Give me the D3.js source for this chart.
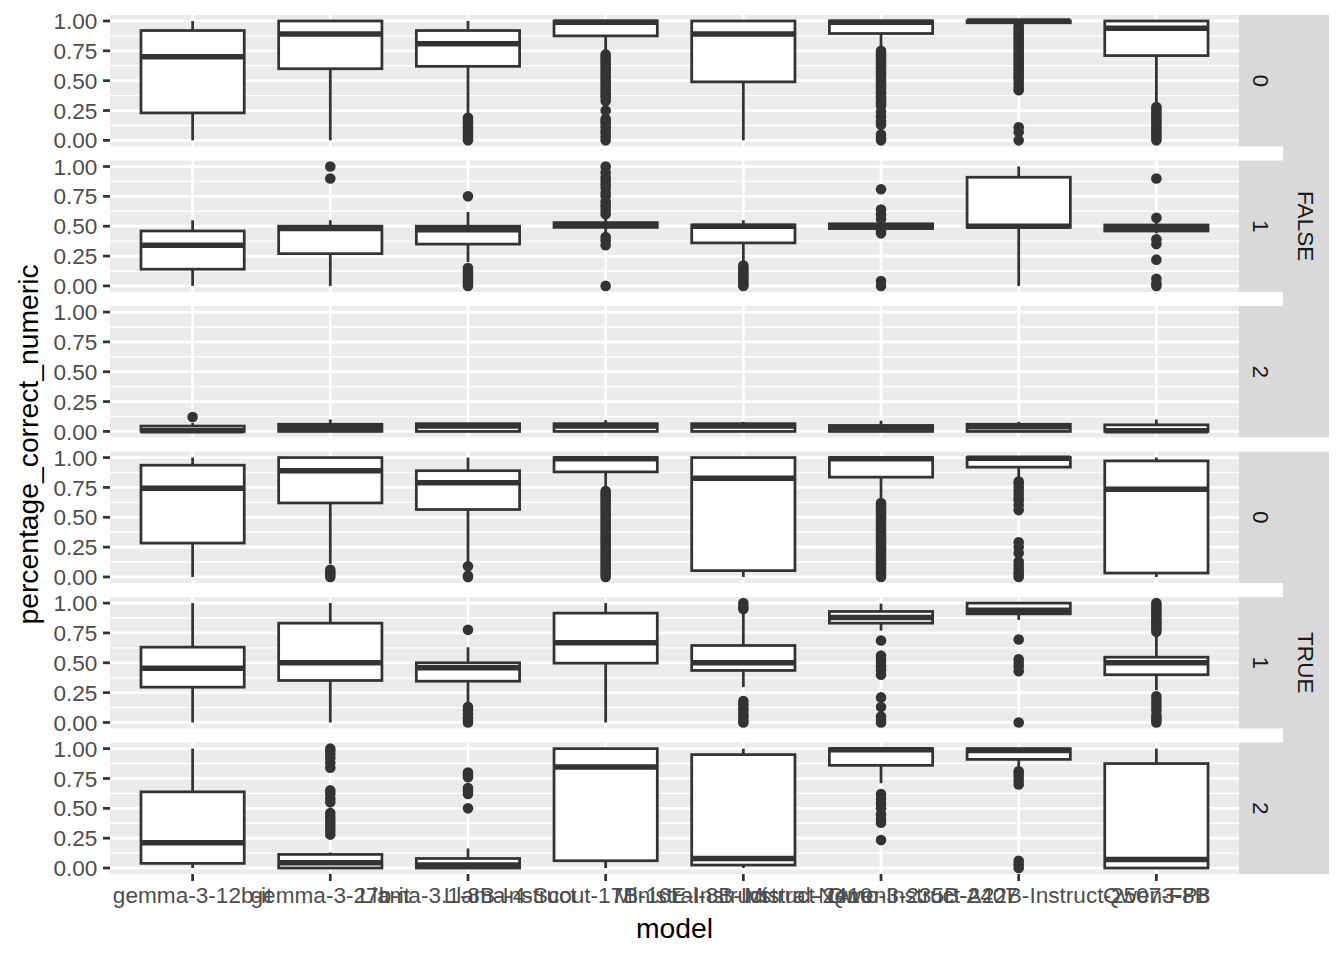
<!DOCTYPE html>
<html>
<head>
<meta charset="utf-8">
<script src="https://cdn.jsdelivr.net/npm/d3@7"></script>
<style>
html,body{margin:0;padding:0;background:#fff;}
svg text{font-family:"Liberation Sans",Arial,Helvetica,sans-serif;}
</style>
</head>
<body>
<svg id="chart" width="1344" height="960"></svg>
<script>
// ---------------- data ----------------
const models = ["gemma-3-12b-it","gemma-3-27b-it","Llama-3.1-8B-Instruct","Llama-4-Scout-17B-16E-Instruct",
  "Ministral-8B-Instruct-2410","Mistral-Nemo-Instruct-2407","Qwen3-235B-A22B-Instruct-2507-FP8","Qwen3-8B"];
const outerLevels = ["FALSE","TRUE"];
const innerLevels = ["0","1","2"];
const yTicks = [0,0.25,0.5,0.75,1];
const yTickLabels = ["0.00","0.25","0.50","0.75","1.00"];
const yMinor = [0.125,0.375,0.625,0.875];
const xTitle = "model";
const yTitle = "percentage_correct_numeric";

// stats per model: [lower whisker, q1, median, q3, upper whisker]
const statsFALSE0 = [[0,0.23,0.70,0.92,1],[0,0.60,0.89,1,1],[0.22,0.62,0.81,0.92,1],[0.75,0.875,0.99,1,1],
  [0,0.49,0.89,1,1],[0.78,0.895,0.99,1,1],[0.97,0.985,1,1,1],[0.31,0.71,0.94,1,1]];
const statsFALSE1 = [[0,0.14,0.34,0.46,0.55],[0,0.27,0.48,0.50,0.55],[0.2,0.35,0.47,0.5,0.62],[0.44,0.49,0.51,0.53,0.56],
  [0.2,0.36,0.5,0.51,0.55],[0.47,0.48,0.5,0.52,0.53],[0,0.49,0.5,0.91,1],[0.44,0.46,0.49,0.51,0.53]];
const statsFALSE2 = [[0,0,0.005,0.045,0.07],[0,0,0.03,0.06,0.1],[0,0,0.045,0.065,0.07],[0,0,0.045,0.065,0.095],
  [0,0,0.045,0.065,0.08],[0,0,0.035,0.05,0.09],[0,0,0.04,0.06,0.08],[0,0,0.005,0.055,0.1]];
const statsTRUE0 = [[0,0.284,0.744,0.936,1],[0.11,0.62,0.89,1,1],[0.12,0.565,0.79,0.89,1],[0.735,0.88,0.99,1,1],
  [0,0.053,0.827,1,1],[0.64,0.836,0.99,1,1],[0.83,0.92,0.995,1,1],[0,0.033,0.735,0.972,1]];
const statsTRUE1 = [[0,0.296,0.455,0.631,1],[0,0.352,0.5,0.832,1],[0.156,0.346,0.458,0.5,0.63],[0,0.497,0.668,0.916,1],
  [0.296,0.436,0.5,0.645,0.94],[0.77,0.832,0.88,0.93,0.995],[0.86,0.91,0.94,1,1],[0.27,0.40,0.50,0.547,0.74]];
const statsTRUE2 = [[0,0.039,0.212,0.638,1],[0,0,0.045,0.114,0.13],[0,0,0.025,0.08,0.164],[0,0.061,0.847,1,1],
  [0,0.025,0.08,0.95,1],[0.71,0.86,0.99,1,1],[0.83,0.91,0.985,1,1],[0,0,0.072,0.875,1]];

// outliers per model
const outFALSE0 = [[],[],
  [0.19,0.17,0.15,0.13,0.11,0.09,0.07,0.05,0.03,0.01,0],
  [0.72,0.7,0.68,0.66,0.64,0.62,0.6,0.58,0.56,0.54,0.52,0.5,0.48,0.46,0.44,0.42,0.4,0.38,0.36,0.33,0.25,0.18,0.16,0.14,0.11,0.08,0.06,0.03,0],
  [],
  [0.75,0.73,0.71,0.69,0.67,0.65,0.63,0.61,0.59,0.57,0.55,0.53,0.51,0.49,0.47,0.45,0.43,0.41,0.39,0.37,0.35,0.33,0.31,0.29,0.24,0.2,0.16,0.13,0.05,0.02,0],
  [0.96,0.94,0.92,0.9,0.88,0.86,0.84,0.82,0.8,0.78,0.76,0.74,0.72,0.7,0.68,0.66,0.64,0.62,0.6,0.58,0.56,0.54,0.52,0.5,0.47,0.44,0.42,0.11,0.07,0],
  [0.28,0.26,0.24,0.22,0.2,0.18,0.16,0.14,0.12,0.1,0.08,0.06,0.04,0.02,0]];
const outFALSE1 = [[],[1,0.9],
  [0.75,0.15,0.13,0.11,0.09,0.07,0.05,0.03,0.01,0],
  [1,0.95,0.91,0.88,0.85,0.82,0.78,0.75,0.71,0.68,0.66,0.63,0.6,0.41,0.38,0.34,0],
  [0.17,0.15,0.13,0.11,0.09,0.07,0.05,0.03,0.01,0],
  [0.81,0.64,0.6,0.56,0.46,0.44,0.04,0],
  [],
  [0.9,0.57,0.39,0.35,0.22,0.06,0.02,0]];
const outFALSE2 = [[0.12],[],[],[],[],[],[],[]];
const outTRUE0 = [[],
  [0.06,0.04,0.02,0],
  [0.09,0.01,0],
  [0.72,0.7,0.68,0.66,0.64,0.62,0.6,0.58,0.56,0.54,0.52,0.5,0.48,0.46,0.44,0.42,0.4,0.38,0.36,0.34,0.32,0.3,0.28,0.26,0.24,0.22,0.2,0.18,0.16,0.14,0.12,0.1,0.08,0.06,0.04,0.02,0],
  [],
  [0.62,0.6,0.58,0.56,0.54,0.52,0.5,0.48,0.46,0.44,0.42,0.4,0.38,0.36,0.34,0.32,0.3,0.28,0.26,0.24,0.22,0.2,0.18,0.16,0.14,0.12,0.1,0.08,0.06,0.04,0.02,0],
  [0.8,0.78,0.75,0.72,0.69,0.66,0.64,0.6,0.56,0.29,0.25,0.2,0.13,0.1,0.07,0.04,0.02,0],
  []];
const outTRUE1 = [[],[],
  [0.776,0.13,0.1,0.07,0.04,0.02,0],
  [],
  [1,0.97,0.95,0.18,0.15,0.12,0.1,0.07,0.05,0.02,0],
  [0.687,0.56,0.53,0.5,0.47,0.44,0.4,0.21,0.13,0.05,0.02,0],
  [0.695,0.53,0.5,0.47,0.43,0],
  [1,0.98,0.96,0.94,0.92,0.9,0.88,0.86,0.84,0.82,0.8,0.78,0.76,0.22,0.19,0.16,0.13,0.1,0.06,0.04,0.02,0]];
const outTRUE2 = [[],
  [1,0.98,0.95,0.92,0.88,0.84,0.65,0.62,0.58,0.55,0.46,0.43,0.4,0.37,0.34,0.31,0.28],
  [0.8,0.78,0.76,0.67,0.65,0.62,0.5],
  [],[],
  [0.62,0.58,0.54,0.5,0.45,0.41,0.38,0.234],
  [0.81,0.79,0.76,0.73,0.7,0.06,0.03,0],
  []];

const panels = [
  {outer:"FALSE", inner:"0", stats:statsFALSE0, out:outFALSE0},
  {outer:"FALSE", inner:"1", stats:statsFALSE1, out:outFALSE1},
  {outer:"FALSE", inner:"2", stats:statsFALSE2, out:outFALSE2},
  {outer:"TRUE",  inner:"0", stats:statsTRUE0,  out:outTRUE0},
  {outer:"TRUE",  inner:"1", stats:statsTRUE1,  out:outTRUE1},
  {outer:"TRUE",  inner:"2", stats:statsTRUE2,  out:outTRUE2}
];

// ---------------- layout ----------------
const svg = d3.select("#chart");
const L = 110, R = 1239, T = 15, B = 874;
const gap = 14.2;
const nRows = panels.length;
const ph = (B - T - gap*(nRows-1)) / nRows;
const innerStripW = 44, outerStripW = 46;
const axisCol = "#4D4D4D", tickCol = "#333333", boxCol = "#333333";
const lw = 2.75;
const axisFont = 22.6, titleFont = 28.3;

const x = d3.scalePoint().domain(models).range([L, R]).padding(0.6);
const boxW = x.step() * 0.75;

svg.append("rect").attr("width",1344).attr("height",960).attr("fill","#fff");

panels.forEach((p, i) => {
  const top = T + i*(ph+gap);
  const y = d3.scaleLinear().domain([-0.05,1.05]).range([top+ph, top]);
  const g = svg.append("g");
  g.append("rect").attr("x",L).attr("y",top).attr("width",R-L).attr("height",ph).attr("fill","#EBEBEB");
  g.selectAll(".minor").data(yMinor).enter().append("line")
    .attr("x1",L).attr("x2",R).attr("y1",d=>y(d)).attr("y2",d=>y(d))
    .attr("stroke","#fff").attr("stroke-width",lw/2);
  g.selectAll(".major").data(yTicks).enter().append("line")
    .attr("x1",L).attr("x2",R).attr("y1",d=>y(d)).attr("y2",d=>y(d))
    .attr("stroke","#fff").attr("stroke-width",lw);
  g.selectAll(".vmaj").data(models).enter().append("line")
    .attr("x1",d=>x(d)).attr("x2",d=>x(d)).attr("y1",top).attr("y2",top+ph)
    .attr("stroke","#fff").attr("stroke-width",lw);

  // y axis
  const ya = g.append("g");
  ya.selectAll("line").data(yTicks).enter().append("line")
    .attr("x1",L-7).attr("x2",L).attr("y1",d=>y(d)).attr("y2",d=>y(d))
    .attr("stroke",tickCol).attr("stroke-width",lw);
  ya.selectAll("text").data(yTicks).enter().append("text")
    .attr("x",L-7-5.6).attr("y",d=>y(d)).attr("dy","0.36em")
    .attr("text-anchor","end").attr("font-size",axisFont).attr("fill",axisCol)
    .text((d,k)=>yTickLabels[k]);

  // boxes
  models.forEach((m, k) => {
    const s = p.stats[k];
    const cx = x(m);
    const bg = g.append("g");
    bg.selectAll("circle").data(p.out[k]).enter().append("circle")
      .attr("cx",cx).attr("cy",d=>y(d)).attr("r",5.3).attr("fill",boxCol);
    bg.append("line").attr("x1",cx).attr("x2",cx).attr("y1",y(s[3])).attr("y2",y(s[4]))
      .attr("stroke",boxCol).attr("stroke-width",lw);
    bg.append("line").attr("x1",cx).attr("x2",cx).attr("y1",y(s[1])).attr("y2",y(s[0]))
      .attr("stroke",boxCol).attr("stroke-width",lw);
    bg.append("rect").attr("x",cx-boxW/2).attr("width",boxW)
      .attr("y",y(s[3])).attr("height",Math.max(0,y(s[1])-y(s[3])))
      .attr("fill","#fff").attr("stroke",boxCol).attr("stroke-width",lw);
    bg.append("line").attr("x1",cx-boxW/2).attr("x2",cx+boxW/2).attr("y1",y(s[2])).attr("y2",y(s[2]))
      .attr("stroke",boxCol).attr("stroke-width",lw*2);
  });

  // inner strip
  g.append("rect").attr("x",R).attr("y",top).attr("width",innerStripW).attr("height",ph).attr("fill","#D9D9D9");
  g.append("text").attr("transform",`translate(${R+innerStripW/2},${top+ph/2}) rotate(90)`)
    .attr("text-anchor","middle").attr("dy","0.36em").attr("font-size",axisFont).attr("fill","#1A1A1A")
    .text(p.inner);
});

// outer strips
outerLevels.forEach((lev, j) => {
  const top = T + (j*3)*(ph+gap);
  const bot = T + (j*3+2)*(ph+gap) + ph;
  svg.append("rect").attr("x",R+innerStripW).attr("y",top).attr("width",outerStripW).attr("height",bot-top).attr("fill","#D9D9D9");
  svg.append("text").attr("transform",`translate(${R+innerStripW+outerStripW/2},${(top+bot)/2}) rotate(90)`)
    .attr("text-anchor","middle").attr("dy","0.36em").attr("font-size",axisFont).attr("fill","#1A1A1A")
    .text(lev);
});

// x axis
const xa = svg.append("g");
xa.selectAll("line").data(models).enter().append("line")
  .attr("x1",d=>x(d)).attr("x2",d=>x(d)).attr("y1",B).attr("y2",B+7)
  .attr("stroke",tickCol).attr("stroke-width",lw);
xa.selectAll("text").data(models).enter().append("text")
  .attr("x",d=>x(d)).attr("y",B+7+21.5).attr("text-anchor","middle")
  .attr("font-size",axisFont).attr("fill",axisCol).text(d=>d);

// titles
svg.append("text").attr("x",(L+R)/2).attr("y",938).attr("text-anchor","middle")
  .attr("font-size",titleFont).attr("fill","#000").text(xTitle);
svg.append("text").attr("transform",`translate(38,${(T+B)/2}) rotate(-90)`)
  .attr("text-anchor","middle").attr("font-size",titleFont).attr("fill","#000").text(yTitle);
</script>
</body>
</html>
